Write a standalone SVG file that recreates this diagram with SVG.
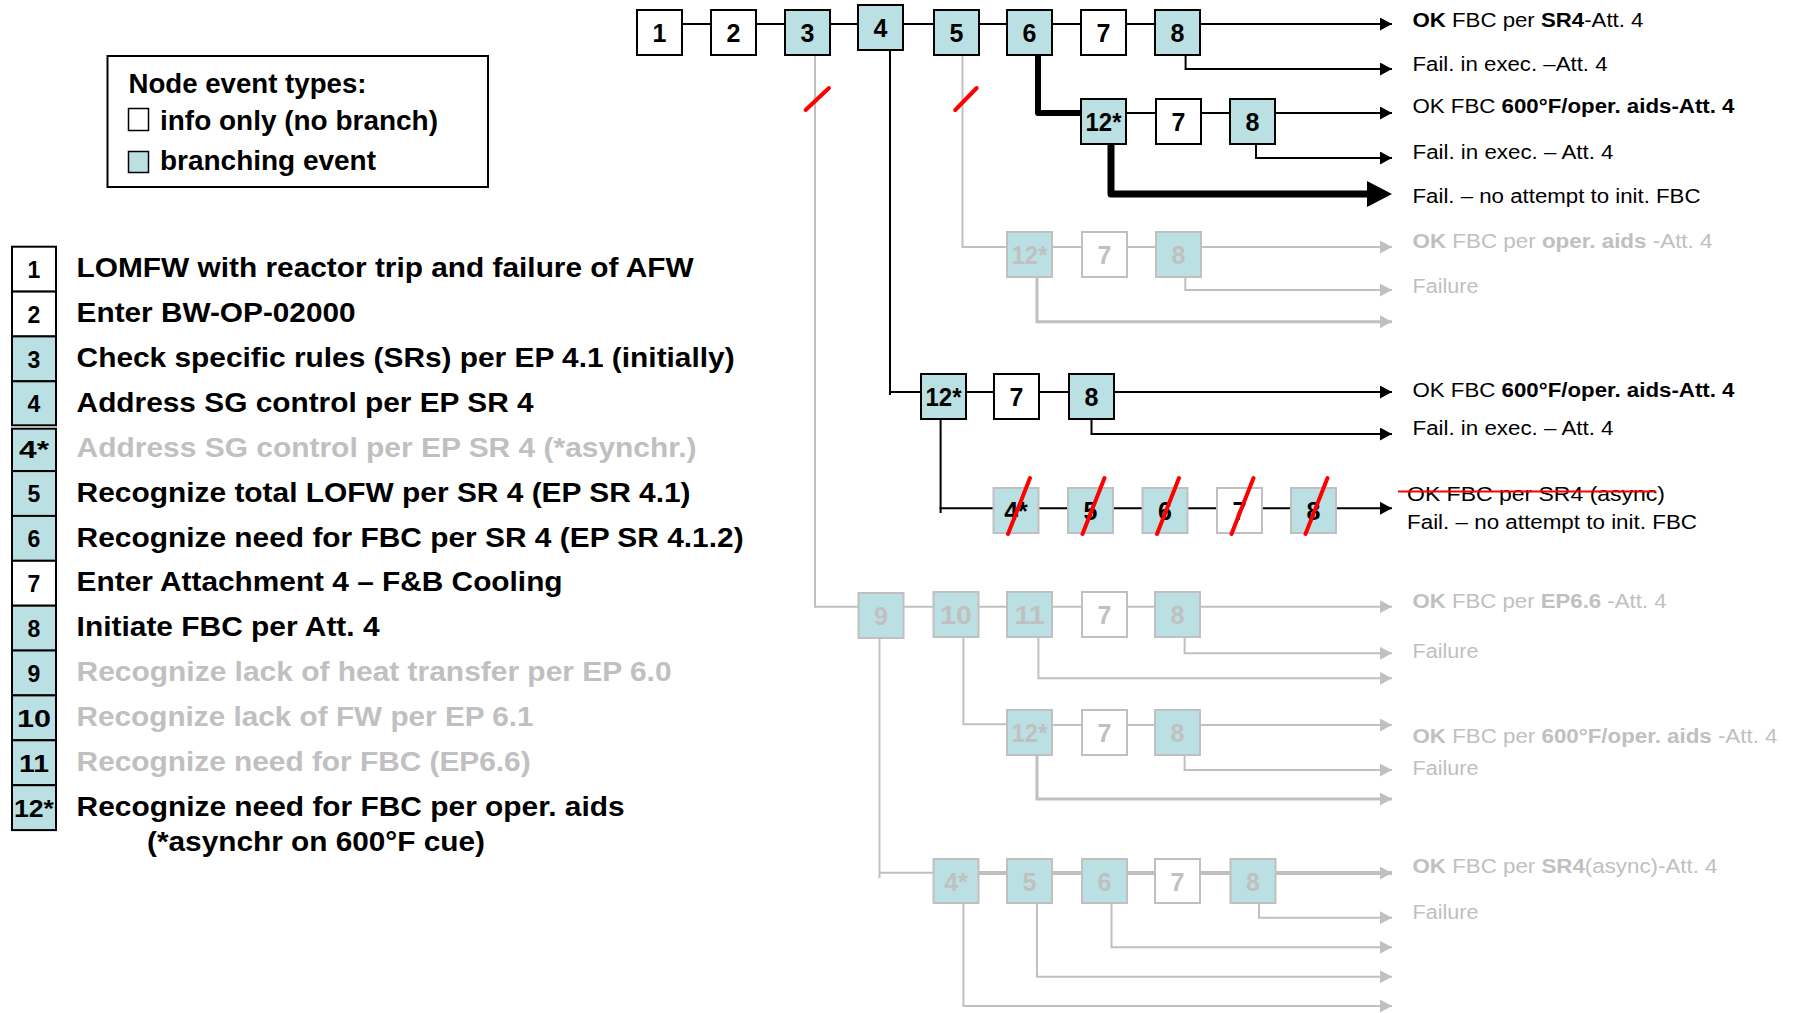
<svg xmlns="http://www.w3.org/2000/svg" width="1797" height="1013" viewBox="0 0 1797 1013">
<defs>
<style>
text{font-family:"Liberation Sans",Arial,sans-serif}
.bx{stroke:#000;stroke-width:2}
.gb{stroke:#c0c0c0;stroke-width:2}
.bl{fill:#bbe0e3}
.wh{fill:#fff}
.num{font-size:25px;font-weight:bold;text-anchor:middle;fill:#000}
.gnum{font-size:25px;font-weight:bold;text-anchor:middle;fill:#c0c0c0}
.lnum{font-size:23px;font-weight:bold;text-anchor:middle;fill:#000}
.lab{font-size:27px;font-weight:bold;fill:#000}
.glab{font-size:27px;font-weight:bold;fill:#c0c0c0}
.out{font-size:20px;fill:#000}
.gout{font-size:20px;fill:#c0c0c0}
.b{font-weight:bold}
.k{fill:none;stroke:#000;stroke-width:2}
.g{fill:none;stroke:#c0c0c0;stroke-width:2}
.red{stroke:#ff0000;stroke-width:4;stroke-linecap:round}
</style>
<marker id="ak" markerUnits="userSpaceOnUse" markerWidth="12" markerHeight="13" viewBox="0 0 12 13" refX="12" refY="6.5" orient="auto"><path d="M0,0 L12,6.5 L0,13 z" fill="#000"/></marker>
<marker id="ag" markerUnits="userSpaceOnUse" markerWidth="12" markerHeight="13" viewBox="0 0 12 13" refX="12" refY="6.5" orient="auto"><path d="M0,0 L12,6.5 L0,13 z" fill="#c0c0c0"/></marker>
</defs>
<rect width="1797" height="1013" fill="#fff"/>

<!-- Legend -->
<g id="legend">
<rect x="107.5" y="56" width="380.5" height="131" fill="#fff" stroke="#000" stroke-width="2"/>
<text class="lab" x="128.5" y="93" textLength="238" lengthAdjust="spacingAndGlyphs">Node event types:</text>
<rect x="128.5" y="108.5" width="20" height="22" fill="#fff" stroke="#000" stroke-width="1.5"/>
<text class="lab" x="160" y="130" textLength="278" lengthAdjust="spacingAndGlyphs">info only (no branch)</text>
<rect x="128.5" y="151.5" width="20" height="21" fill="#bbe0e3" stroke="#000" stroke-width="1.5"/>
<text class="lab" x="160" y="170" textLength="216" lengthAdjust="spacingAndGlyphs">branching event</text>
</g>

<!-- Key list -->
<g id="key">
<g id="k1"><rect class="bx wh" x="12" y="246.7" width="44" height="44.9"/><text class="lnum" x="34" y="278">1</text><text class="lab" x="76.6" y="277" textLength="617" lengthAdjust="spacingAndGlyphs">LOMFW with reactor trip and failure of AFW</text></g>
<g id="k2"><rect class="bx wh" x="12" y="291.6" width="44" height="44.9"/><text class="lnum" x="34" y="322.5">2</text><text class="lab" x="76.6" y="322" textLength="279" lengthAdjust="spacingAndGlyphs">Enter BW-OP-02000</text></g>
<g id="k3"><rect class="bx bl" x="12" y="336.4" width="44" height="44.9"/><text class="lnum" x="34" y="367.5">3</text><text class="lab" x="76.6" y="367" textLength="658" lengthAdjust="spacingAndGlyphs">Check specific rules (SRs) per EP 4.1 (initially)</text></g>
<g id="k4"><rect class="bx bl" x="12" y="381.3" width="44" height="44"/><text class="lnum" x="34" y="412">4</text><text class="lab" x="76.6" y="411.5" textLength="457" lengthAdjust="spacingAndGlyphs">Address SG control per EP SR 4</text></g>
<g id="k4a"><rect class="bx bl" x="12" y="428.7" width="44" height="42.4"/><text class="lnum" x="34" y="458" textLength="30" lengthAdjust="spacingAndGlyphs">4*</text><text class="glab" x="76.6" y="456.5" textLength="620" lengthAdjust="spacingAndGlyphs">Address SG control per EP SR 4 (*asynchr.)</text></g>
<g id="k5"><rect class="bx bl" x="12" y="471.1" width="44" height="44.9"/><text class="lnum" x="34" y="502">5</text><text class="lab" x="76.6" y="501.5" textLength="614" lengthAdjust="spacingAndGlyphs">Recognize total LOFW per SR 4 (EP SR 4.1)</text></g>
<g id="k6"><rect class="bx bl" x="12" y="515.9" width="44" height="44.9"/><text class="lnum" x="34" y="547">6</text><text class="lab" x="76.6" y="546.5" textLength="667" lengthAdjust="spacingAndGlyphs">Recognize need for FBC per SR 4 (EP SR 4.1.2)</text></g>
<g id="k7"><rect class="bx wh" x="12" y="560.8" width="44" height="44.9"/><text class="lnum" x="34" y="592">7</text><text class="lab" x="76.6" y="591" textLength="486" lengthAdjust="spacingAndGlyphs">Enter Attachment 4 – F&amp;B Cooling</text></g>
<g id="k8"><rect class="bx bl" x="12" y="605.7" width="44" height="44.9"/><text class="lnum" x="34" y="637">8</text><text class="lab" x="76.6" y="636" textLength="303" lengthAdjust="spacingAndGlyphs">Initiate FBC per Att. 4</text></g>
<g id="k9"><rect class="bx bl" x="12" y="650.5" width="44" height="44.9"/><text class="lnum" x="34" y="682">9</text><text class="glab" x="76.6" y="681" textLength="595" lengthAdjust="spacingAndGlyphs">Recognize lack of heat transfer per EP 6.0</text></g>
<g id="k10"><rect class="bx bl" x="12" y="695.4" width="44" height="44.9"/><text class="lnum" x="34" y="727" textLength="34" lengthAdjust="spacingAndGlyphs">10</text><text class="glab" x="76.6" y="726" textLength="457" lengthAdjust="spacingAndGlyphs">Recognize lack of FW per EP 6.1</text></g>
<g id="k11"><rect class="bx bl" x="12" y="740.3" width="44" height="44.9"/><text class="lnum" x="34" y="772" textLength="30" lengthAdjust="spacingAndGlyphs">11</text><text class="glab" x="76.6" y="771" textLength="454" lengthAdjust="spacingAndGlyphs">Recognize need for FBC (EP6.6)</text></g>
<g id="k12"><rect class="bx bl" x="12" y="785.2" width="44" height="44.9"/><text class="lnum" x="34" y="816.5" textLength="40" lengthAdjust="spacingAndGlyphs">12*</text><text class="lab" x="76.6" y="815.5" textLength="548" lengthAdjust="spacingAndGlyphs">Recognize need for FBC per oper. aids</text><text class="lab" x="147" y="851" textLength="338" lengthAdjust="spacingAndGlyphs">(*asynchr on 600°F cue)</text></g>
</g>

<!-- Connectors -->
<g id="connectors">
<path class="g" d="M815,55 V606.7 H858.5"/>
<path class="g" d="M962.5,55 V247 H1007"/>
<path class="g" d="M1052,247 H1392" marker-end="url(#ag)"/>
<path class="g" d="M1185.3,277 V290 H1392" marker-end="url(#ag)"/>
<path class="g" style="stroke-width:3" d="M1037,277 V321.7 H1392" marker-end="url(#ag)"/>
<path class="g" d="M903,606.7 H1392" marker-end="url(#ag)"/>
<path class="g" d="M1184.6,638 V653.3 H1392" marker-end="url(#ag)"/>
<path class="g" d="M1038.4,638 V678.3 H1392" marker-end="url(#ag)"/>
<path class="g" d="M963.4,638 V724.3 H1007"/>
<path class="g" d="M1052,725 H1392" marker-end="url(#ag)"/>
<path class="g" d="M1184.6,755 V770 H1392" marker-end="url(#ag)"/>
<path class="g" style="stroke-width:3" d="M1037,755 V799 H1392" marker-end="url(#ag)"/>
<path class="g" d="M879.5,638 V878"/>
<path class="g" d="M879.5,872.7 H933.5"/>
<path class="g" style="stroke-width:4" d="M978,873 H1392" marker-end="url(#ag)"/>
<path class="g" d="M1259,903 V917.7 H1392" marker-end="url(#ag)"/>
<path class="g" d="M1111.5,903 V947.3 H1392" marker-end="url(#ag)"/>
<path class="g" d="M1037,903 V976.7 H1392" marker-end="url(#ag)"/>
<path class="g" d="M963.4,903 V1006 H1392" marker-end="url(#ag)"/>
<path class="k" d="M681,24 H1392" marker-end="url(#ak)"/>
<path class="k" d="M1185.6,55 V69 H1392" marker-end="url(#ak)"/>
<path fill="none" stroke="#000" stroke-width="6" stroke-linejoin="round" d="M1038,55 V113 H1081"/>
<path class="k" d="M1126,113 H1392" marker-end="url(#ak)"/>
<path class="k" d="M1256,143 V158 H1392" marker-end="url(#ak)"/>
<path fill="none" stroke="#000" stroke-width="7" stroke-linejoin="round" d="M1111,144 V194 H1370"/>
<polygon points="1367,181 1392,194 1367,207" fill="#000"/>
<path class="k" d="M890,50 V395"/>
<path class="k" d="M889,392 H921"/>
<path class="k" d="M966,392 H1392" marker-end="url(#ak)"/>
<path class="k" d="M1091.5,419 V434 H1392" marker-end="url(#ak)"/>
<path class="k" d="M940.6,419 V513"/>
<path class="k" d="M939.6,508.3 H1392" marker-end="url(#ak)"/>
</g>

<!-- Top row -->
<g id="n1"><rect class="bx wh" x="637" y="10" width="45" height="45"/><text class="num" x="659.5" y="42">1</text></g>
<g id="n2"><rect class="bx wh" x="711" y="10" width="45" height="45"/><text class="num" x="733.5" y="42">2</text></g>
<g id="n3"><rect class="bx bl" x="785" y="10" width="45" height="45"/><text class="num" x="807.5" y="42">3</text></g>
<g id="n4"><rect class="bx bl" x="858" y="5" width="45" height="45"/><text class="num" x="880.5" y="37">4</text></g>
<g id="n5"><rect class="bx bl" x="934" y="10" width="45" height="45"/><text class="num" x="956.5" y="42">5</text></g>
<g id="n6"><rect class="bx bl" x="1007" y="10" width="45" height="45"/><text class="num" x="1029.5" y="42">6</text></g>
<g id="n7"><rect class="bx wh" x="1081" y="10" width="45" height="45"/><text class="num" x="1103.5" y="42">7</text></g>
<g id="n8"><rect class="bx bl" x="1155" y="10" width="45" height="45"/><text class="num" x="1177.5" y="42">8</text></g>

<!-- Row 2 -->
<g id="r2n12"><rect class="bx bl" x="1081" y="99" width="45" height="45"/><text class="num" x="1103.5" y="131" textLength="36" lengthAdjust="spacingAndGlyphs">12*</text></g>
<g id="r2n7"><rect class="bx wh" x="1156" y="99" width="45" height="45"/><text class="num" x="1178.5" y="131">7</text></g>
<g id="r2n8"><rect class="bx bl" x="1230" y="99" width="45" height="45"/><text class="num" x="1252.5" y="131">8</text></g>

<!-- Row 3 gray -->
<g id="r3n12"><rect class="gb bl" x="1007" y="232" width="45" height="45"/><text class="gnum" x="1029.5" y="264" textLength="36" lengthAdjust="spacingAndGlyphs">12*</text></g>
<g id="r3n7"><rect class="gb wh" x="1082" y="232" width="45" height="45"/><text class="gnum" x="1104.5" y="264">7</text></g>
<g id="r3n8"><rect class="gb bl" x="1156" y="232" width="45" height="45"/><text class="gnum" x="1178.5" y="264">8</text></g>

<!-- Row 4 -->
<g id="r4n12"><rect class="bx bl" x="921" y="374" width="45" height="45"/><text class="num" x="943.5" y="406" textLength="36" lengthAdjust="spacingAndGlyphs">12*</text></g>
<g id="r4n7"><rect class="bx wh" x="994" y="374" width="45" height="45"/><text class="num" x="1016.5" y="406">7</text></g>
<g id="r4n8"><rect class="bx bl" x="1069" y="374" width="45" height="45"/><text class="num" x="1091.5" y="406">8</text></g>

<!-- Row 5 (struck out) -->
<g id="r5n4"><rect class="gb bl" x="993.5" y="488" width="45" height="45"/><text class="num" x="1016" y="520">4*</text><line class="red" x1="1008" y1="534" x2="1030" y2="478"/></g>
<g id="r5n5"><rect class="gb bl" x="1068" y="488" width="45" height="45"/><text class="num" x="1090.5" y="520">5</text><line class="red" x1="1082.5" y1="534" x2="1104.5" y2="478"/></g>
<g id="r5n6"><rect class="gb bl" x="1142.5" y="488" width="45" height="45"/><text class="num" x="1165" y="520">6</text><line class="red" x1="1157" y1="534" x2="1179" y2="478"/></g>
<g id="r5n7"><rect class="gb wh" x="1217" y="488" width="45" height="45"/><text class="num" x="1239.5" y="520">7</text><line class="red" x1="1231.5" y1="534" x2="1253.5" y2="478"/></g>
<g id="r5n8"><rect class="gb bl" x="1291" y="488" width="45" height="45"/><text class="num" x="1313.5" y="520">8</text><line class="red" x1="1305.5" y1="534" x2="1327.5" y2="478"/></g>

<!-- Row 6 gray -->
<g id="r6n9"><rect class="gb bl" x="858.5" y="593" width="45" height="45"/><text class="gnum" x="881" y="625">9</text></g>
<g id="r6n10"><rect class="gb bl" x="933.5" y="592" width="45" height="45"/><text class="gnum" x="956" y="624" textLength="32" lengthAdjust="spacingAndGlyphs">10</text></g>
<g id="r6n11"><rect class="gb bl" x="1007" y="592" width="45" height="45"/><text class="gnum" x="1029.5" y="624" textLength="30" lengthAdjust="spacingAndGlyphs">11</text></g>
<g id="r6n7"><rect class="gb wh" x="1082" y="592" width="45" height="45"/><text class="gnum" x="1104.5" y="624">7</text></g>
<g id="r6n8"><rect class="gb bl" x="1155" y="592" width="45" height="45"/><text class="gnum" x="1177.5" y="624">8</text></g>

<!-- Row 7 gray -->
<g id="r7n12"><rect class="gb bl" x="1007" y="710" width="45" height="45"/><text class="gnum" x="1029.5" y="742" textLength="36" lengthAdjust="spacingAndGlyphs">12*</text></g>
<g id="r7n7"><rect class="gb wh" x="1082" y="710" width="45" height="45"/><text class="gnum" x="1104.5" y="742">7</text></g>
<g id="r7n8"><rect class="gb bl" x="1155" y="710" width="45" height="45"/><text class="gnum" x="1177.5" y="742">8</text></g>

<!-- Row 8 gray -->
<g id="r8n4"><rect class="gb bl" x="933.5" y="859" width="45" height="44"/><text class="gnum" x="956" y="891">4*</text></g>
<g id="r8n5"><rect class="gb bl" x="1007" y="859" width="45" height="44"/><text class="gnum" x="1029.5" y="891">5</text></g>
<g id="r8n6"><rect class="gb bl" x="1082" y="859" width="45" height="44"/><text class="gnum" x="1104.5" y="891">6</text></g>
<g id="r8n7"><rect class="gb wh" x="1155" y="859" width="45" height="44"/><text class="gnum" x="1177.5" y="891">7</text></g>
<g id="r8n8"><rect class="gb bl" x="1230.5" y="859" width="45" height="44"/><text class="gnum" x="1253" y="891">8</text></g>

<!-- Red slashes on top-row branches -->
<g id="cuts">
<line class="red" x1="805.6" y1="110" x2="829" y2="88"/>
<line class="red" x1="955.2" y1="110" x2="976.7" y2="88"/>
</g>

<!-- Outcome labels -->
<g id="outcomes">
<text class="out" x="1412.5" y="27" textLength="231" lengthAdjust="spacingAndGlyphs"><tspan class="b">OK</tspan> FBC per <tspan class="b">SR4</tspan>-Att. 4</text>
<text class="out" x="1412.5" y="71" textLength="195" lengthAdjust="spacingAndGlyphs">Fail. in exec. –Att. 4</text>
<text class="out" x="1412.5" y="113" textLength="322" lengthAdjust="spacingAndGlyphs">OK FBC <tspan class="b">600°F/oper. aids-Att. 4</tspan></text>
<text class="out" x="1412.5" y="159" textLength="201" lengthAdjust="spacingAndGlyphs">Fail. in exec. – Att. 4</text>
<text class="out" x="1412.5" y="203" textLength="288" lengthAdjust="spacingAndGlyphs">Fail. – no attempt to init. FBC</text>
<text class="gout" x="1412.5" y="248" textLength="300" lengthAdjust="spacingAndGlyphs"><tspan class="b">OK</tspan> FBC per <tspan class="b">oper. aids</tspan> -Att. 4</text>
<text class="gout" x="1412.5" y="293" textLength="66" lengthAdjust="spacingAndGlyphs">Failure</text>
<text class="out" x="1412.5" y="397" textLength="322" lengthAdjust="spacingAndGlyphs">OK FBC <tspan class="b">600°F/oper. aids-Att. 4</tspan></text>
<text class="out" x="1412.5" y="435" textLength="201" lengthAdjust="spacingAndGlyphs">Fail. in exec. – Att. 4</text>
<text class="out" x="1407" y="501" textLength="258" lengthAdjust="spacingAndGlyphs">OK  FBC per SR4 (async)</text>
<line x1="1398" y1="491.5" x2="1656" y2="491.5" stroke="#ff0000" stroke-width="2"/>
<text class="out" x="1407" y="529" textLength="290" lengthAdjust="spacingAndGlyphs">Fail. – no attempt to init. FBC</text>
<text class="gout" x="1412.5" y="608" textLength="254" lengthAdjust="spacingAndGlyphs"><tspan class="b">OK</tspan> FBC per <tspan class="b">EP6.6</tspan> -Att. 4</text>
<text class="gout" x="1412.5" y="658" textLength="66" lengthAdjust="spacingAndGlyphs">Failure</text>
<text class="gout" x="1412.5" y="743" textLength="365" lengthAdjust="spacingAndGlyphs"><tspan class="b">OK</tspan> FBC per <tspan class="b">600°F/oper. aids</tspan> -Att. 4</text>
<text class="gout" x="1412.5" y="775" textLength="66" lengthAdjust="spacingAndGlyphs">Failure</text>
<text class="gout" x="1412.5" y="873" textLength="305" lengthAdjust="spacingAndGlyphs"><tspan class="b">OK</tspan> FBC per <tspan class="b">SR4</tspan>(async)-Att. 4</text>
<text class="gout" x="1412.5" y="919" textLength="66" lengthAdjust="spacingAndGlyphs">Failure</text>
</g>
</svg>
